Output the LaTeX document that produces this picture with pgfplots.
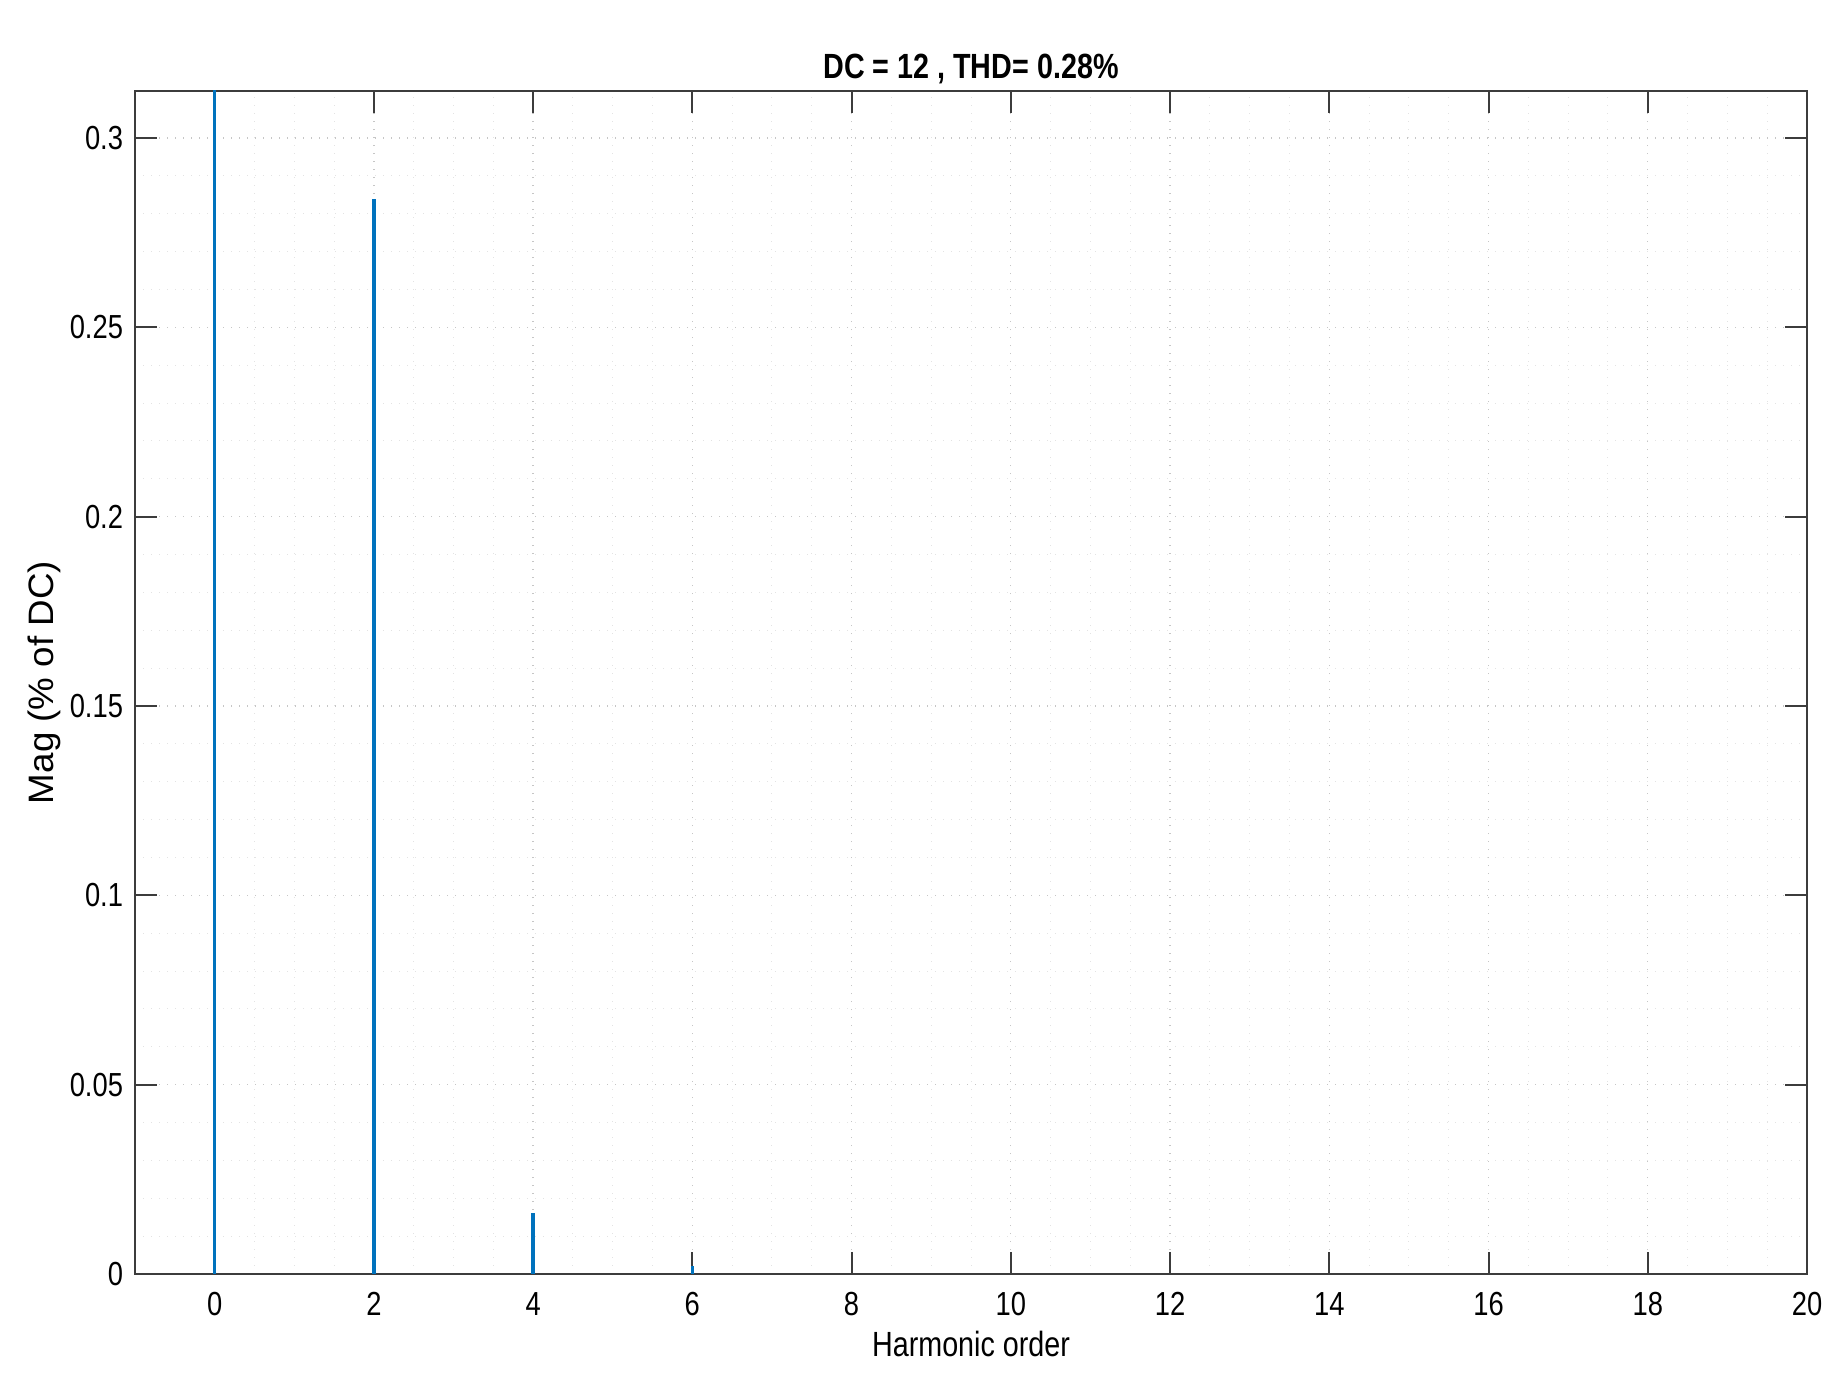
\documentclass[border=0pt]{standalone}
\usepackage{fontspec}
\setmainfont{Liberation Sans}[FakeStretch=0.82]
\newfontfamily\ylfont{Liberation Sans}[FakeStretch=1.04]
\usepackage{pgfplots}
\pgfplotsset{compat=1.18}
\definecolor{stemblue}{RGB}{0,114,189}
\definecolor{axgray}{RGB}{60,60,60}

\begin{document}
\begin{tikzpicture}
\begin{axis}[
    name=ax,
    width=501.6pt, height=354.9pt,
    scale only axis,
    xmin=-1, xmax=20,
    ymin=0, ymax=0.3124,
    enlargelimits=false,
    axis line style={axgray, line width=0.6pt},
    xtick={0,2,...,20},
    xticklabels={0,2,4,6,8,10,12,14,16,18,20},
    ytick={0,0.05,0.1,0.15,0.2,0.25,0.3},
    yticklabels={0,0.05,0.1,0.15,0.2,0.25,0.3},
    minor x tick num=3,
    minor y tick num=4,
    tick align=inside,
    major tick length=6.5pt,
    minor tick length=0pt,
    major tick style={axgray, line width=0.6pt},
    grid=both,
    major grid style={dotted, gray!45, line width=0.4pt},
    minor grid style={dotted, gray!22, line width=0.3pt},
    tick label style={font=\fontsize{10}{12}\selectfont},
    xticklabel style={anchor=base, inner sep=0pt, yshift=-12.3pt},
    yticklabel style={anchor=east, inner sep=0pt, xshift=-3.4pt},
    title={DC = 12 , THD= 0.28\%},
    title style={at={(0.5,1)}, anchor=base, yshift=-2.4pt, inner sep=0pt,
                 font=\fontsize{10.5}{12}\selectfont\bfseries},
    xlabel={Harmonic order},
    xlabel style={at={(0.5,0)}, anchor=base, yshift=-24.6pt, inner sep=0pt,
                  font=\fontsize{10.5}{12}\selectfont},
    ylabel={Mag (\% of DC)},
    ylabel style={at={(-0.0545,0.5)}, anchor=center, inner sep=0pt,
                  font=\fontsize{10.6}{12}\selectfont\ylfont},
]
% the DC bar runs past the top of the axis and is clipped there
\addplot[ycomb, no markers, stemblue, line width=1.05pt] coordinates {
    (0,0.34) (2,0.284) (4,0.016) (6,0.002)
};
\end{axis}
\path[use as bounding box] ([xshift=-40.5pt,yshift=-36.6pt]ax.south west)
    rectangle ([xshift=11.1pt,yshift=27.3pt]ax.north east);
\end{tikzpicture}
\end{document}
